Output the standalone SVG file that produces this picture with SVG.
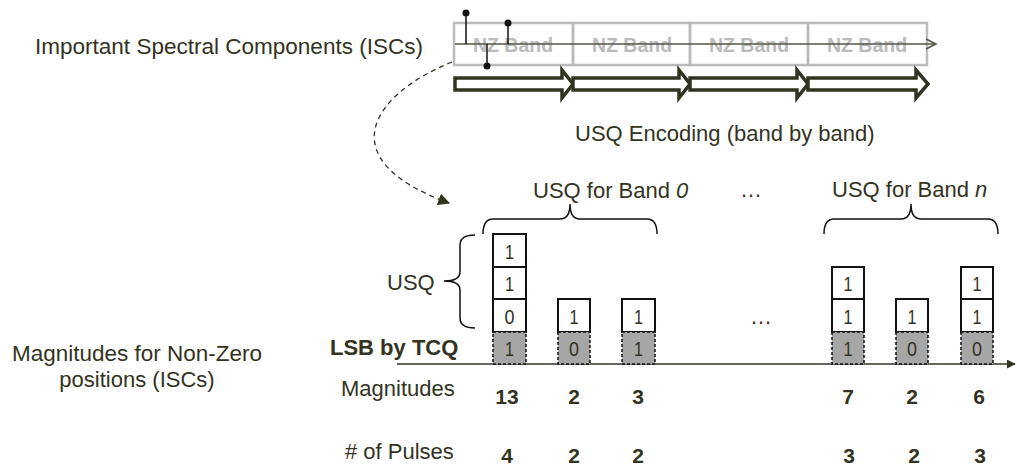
<svg xmlns="http://www.w3.org/2000/svg" width="1017" height="467" viewBox="0 0 1017 467">
<style>
text{font-family:"Liberation Sans",Arial,sans-serif;fill:#333322}
.t{font-size:22px}
.b{font-weight:bold}
.nz{font-size:19.5px;font-weight:bold;fill:#bbbbbb;text-anchor:middle}
.band{fill:none;stroke:#bbbbbb;stroke-width:2.5}
.stem{stroke:#111;stroke-width:1.5}
.dot{fill:#111}
.blk{fill:#fff;stroke:#333322;stroke-width:3.5;stroke-linejoin:miter}
.cell{fill:#fff;stroke:#111;stroke-width:2}
.lsb{fill:#a6a6a6;stroke:#111;stroke-width:1.5;stroke-dasharray:3 2}
.dg{font-size:21px;text-anchor:middle}
.num{font-size:21px;font-weight:bold;text-anchor:middle}
.brace{fill:none;stroke:#111;stroke-width:1.5}
</style>
<defs>
<marker id="ah" viewBox="0 0 10 10" refX="9" refY="5" markerWidth="12" markerHeight="12" markerUnits="userSpaceOnUse" orient="auto">
<path d="M0,0 L10,5 L0,10 Z" fill="#333322"/>
</marker>
<marker id="ah2" viewBox="0 0 10 10" refX="9" refY="5" markerWidth="9" markerHeight="9" markerUnits="userSpaceOnUse" orient="auto">
<path d="M0,0 L10,5 L0,10 Z" fill="#333322"/>
</marker>
</defs>

<g id="labels-left">
<text class="t" x="35" y="54" textLength="388" lengthAdjust="spacingAndGlyphs">Important Spectral Components (ISCs)</text>
<text class="t" x="12" y="361" textLength="250" lengthAdjust="spacingAndGlyphs">Magnitudes for Non-Zero</text>
<text class="t" x="137" y="387" text-anchor="middle">positions (ISCs)</text>
</g>

<g id="nz-bands">
<rect class="band" x="454" y="23" width="119" height="42"/>
<rect class="band" x="573" y="23" width="117" height="42"/>
<rect class="band" x="690" y="23" width="118" height="42"/>
<rect class="band" x="808" y="23" width="119" height="42"/>
<text class="nz" x="513" y="52">NZ Band</text>
<text class="nz" x="632" y="52">NZ Band</text>
<text class="nz" x="749" y="52">NZ Band</text>
<text class="nz" x="867" y="52">NZ Band</text>
<line x1="455" y1="44" x2="936" y2="44" stroke="#555544" stroke-width="1.5"/>
<polyline points="926,39 936,44 926,49" fill="none" stroke="#555544" stroke-width="1.5"/>
</g>

<g id="iscs">
<line class="stem" x1="466" y1="44" x2="466" y2="13"/>
<circle class="dot" cx="466" cy="13" r="3.5"/>
<line class="stem" x1="508" y1="44" x2="508" y2="23"/>
<circle class="dot" cx="508" cy="23" r="3.5"/>
<line class="stem" x1="487" y1="44" x2="487" y2="66" stroke="#444433"/>
<circle class="dot" cx="487" cy="66" r="3.5" fill="#333322"/>
</g>

<g id="usq-encoding">
<polygon class="blk" points="455,78 562,78 562,70 573,84 562,98 562,90 455,90"/>
<polygon class="blk" points="573,78 679,78 679,70 690,84 679,98 679,90 573,90"/>
<polygon class="blk" points="690,78 797,78 797,70 808,84 797,98 797,90 690,90"/>
<polygon class="blk" points="808,78 916,78 916,70 928,84 916,98 916,90 808,90"/>
<text class="t" x="575" y="141">USQ Encoding (band by band)</text>
</g>

<g id="connectors">
<path d="M452,62 C370,95 330,160 449,203" fill="none" stroke="#333322" stroke-width="1.3" stroke-dasharray="5 4" marker-end="url(#ah)"/>
<line x1="397" y1="364" x2="1015" y2="364" stroke="#333322" stroke-width="1.5" marker-end="url(#ah2)"/>
</g>

<g id="band-labels">
<text class="t" x="533" y="198">USQ for Band <tspan font-style="italic">0</tspan></text>
<text class="t" x="740" y="197">…</text>
<text class="t" x="832" y="197">USQ for Band <tspan font-style="italic">n</tspan></text>
<path class="brace" d="M483,234 Q483,219 493,219 L560,219 Q570,219 570,204 Q570,219 580,219 L647,219 Q657,219 657,234"/>
<path class="brace" d="M824,234 Q824,219 834,219 L901,219 Q911,219 911,204 Q911,219 921,219 L988,219 Q998,219 998,234"/>
</g>

<g id="usq-label">
<text class="t" x="387" y="290">USQ</text>
<path class="brace" d="M475,235 Q460,235 460,245 L460,272 Q460,281 444,281 Q460,281 460,290 L460,318 Q460,328 475,328"/>
</g>

<g id="col1">
<rect class="cell" x="493" y="234" width="33" height="33"/><text class="dg" x="509.5" y="259" textLength="9" lengthAdjust="spacingAndGlyphs">1</text>
<rect class="cell" x="493" y="267" width="33" height="32"/><text class="dg" x="509.5" y="291" textLength="9" lengthAdjust="spacingAndGlyphs">1</text>
<rect class="cell" x="493" y="299" width="33" height="33"/><text class="dg" x="509.5" y="324" textLength="10" lengthAdjust="spacingAndGlyphs">0</text>
<rect class="lsb" x="493" y="332" width="33" height="32"/><text class="dg" x="509.5" y="356" textLength="9" lengthAdjust="spacingAndGlyphs">1</text>
</g>
<g id="col2">
<rect class="cell" x="558" y="299" width="32" height="33"/><text class="dg" x="574" y="324" textLength="9" lengthAdjust="spacingAndGlyphs">1</text>
<rect class="lsb" x="558" y="332" width="32" height="32"/><text class="dg" x="574" y="356" textLength="10" lengthAdjust="spacingAndGlyphs">0</text>
</g>
<g id="col3">
<rect class="cell" x="622" y="299" width="33" height="33"/><text class="dg" x="638.5" y="324" textLength="9" lengthAdjust="spacingAndGlyphs">1</text>
<rect class="lsb" x="622" y="332" width="33" height="32"/><text class="dg" x="638.5" y="356" textLength="9" lengthAdjust="spacingAndGlyphs">1</text>
</g>
<text class="t" x="750" y="324">…</text>
<g id="col4">
<rect class="cell" x="832" y="267" width="32" height="32"/><text class="dg" x="848" y="291" textLength="9" lengthAdjust="spacingAndGlyphs">1</text>
<rect class="cell" x="832" y="299" width="32" height="33"/><text class="dg" x="848" y="324" textLength="9" lengthAdjust="spacingAndGlyphs">1</text>
<rect class="lsb" x="832" y="332" width="32" height="32"/><text class="dg" x="848" y="356" textLength="9" lengthAdjust="spacingAndGlyphs">1</text>
</g>
<g id="col5">
<rect class="cell" x="896" y="299" width="32" height="33"/><text class="dg" x="912" y="324" textLength="9" lengthAdjust="spacingAndGlyphs">1</text>
<rect class="lsb" x="896" y="332" width="32" height="32"/><text class="dg" x="912" y="356" textLength="10" lengthAdjust="spacingAndGlyphs">0</text>
</g>
<g id="col6">
<rect class="cell" x="961" y="267" width="32" height="32"/><text class="dg" x="977" y="291" textLength="9" lengthAdjust="spacingAndGlyphs">1</text>
<rect class="cell" x="961" y="299" width="32" height="33"/><text class="dg" x="977" y="324" textLength="9" lengthAdjust="spacingAndGlyphs">1</text>
<rect class="lsb" x="961" y="332" width="32" height="32"/><text class="dg" x="977" y="356" textLength="10" lengthAdjust="spacingAndGlyphs">0</text>
</g>

<g id="rows">
<text class="t b" x="330" y="355">LSB by TCQ</text>
<text class="t" x="341" y="396">Magnitudes</text>
<text class="num" x="507" y="404">13</text>
<text class="num" x="574" y="404">2</text>
<text class="num" x="638" y="404">3</text>
<text class="num" x="848" y="404">7</text>
<text class="num" x="912" y="404">2</text>
<text class="num" x="979" y="404">6</text>
<text class="t" x="345" y="459"># of Pulses</text>
<text class="num" x="507" y="463">4</text>
<text class="num" x="574" y="463">2</text>
<text class="num" x="638" y="463">2</text>
<text class="num" x="849" y="463">3</text>
<text class="num" x="914" y="463">2</text>
<text class="num" x="980" y="463">3</text>
</g>
</svg>
